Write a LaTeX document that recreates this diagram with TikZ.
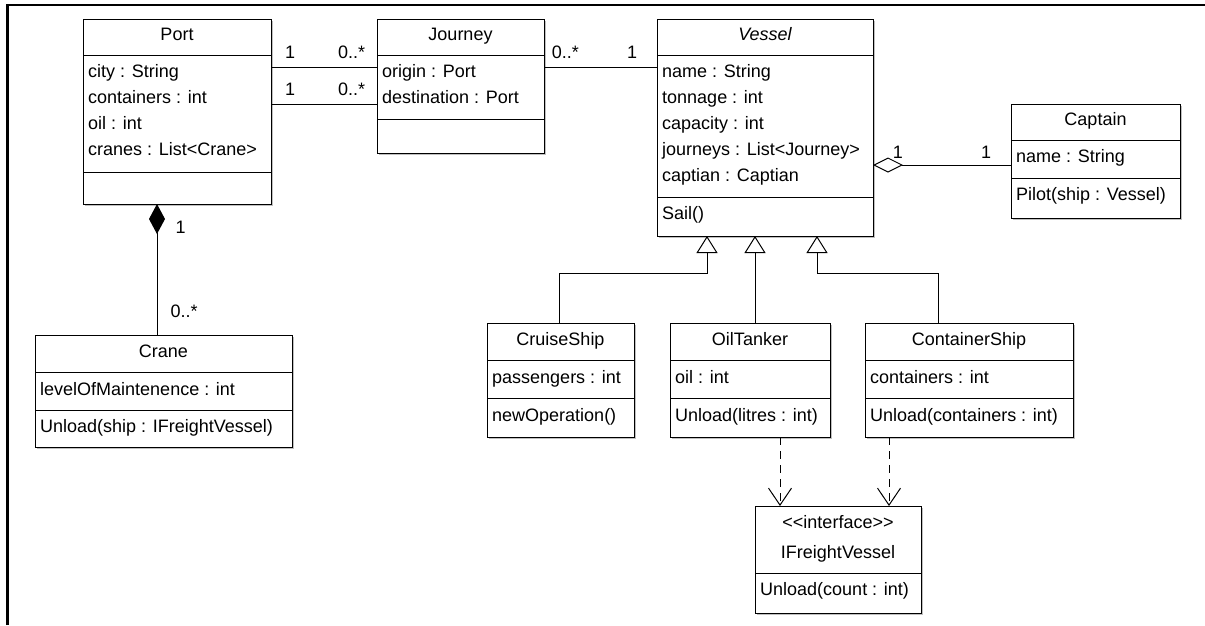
\documentclass[tikz,border=0pt]{standalone}
\usepackage{fontspec}
\setmainfont{Liberation Sans}
\usetikzlibrary{arrows.meta,shadows}

\begin{document}
\begin{tikzpicture}[x=1pt,y=-1pt,
    cls/.style={draw, line width=1pt, fill=white, anchor=north west, inner sep=0pt, outer sep=0pt,
      drop shadow={shadow xshift=2pt, shadow yshift=-2pt, fill=black!25, opacity=1}},
    sepline/.style={line width=1pt},
    title/.style={font=\fontsize{18}{26}\selectfont, inner sep=0pt, anchor=base},
    attr/.style={font=\fontsize{18}{26}\selectfont, inner sep=0pt, anchor=base west},
    mult/.style={font=\fontsize{18}{26}\selectfont, inner sep=0pt},
    link/.style={line width=1pt},
    comp/.style={link, {Diamond[length=30pt,width=16pt]}-},
    aggr/.style={link, {Diamond[open,length=30pt,width=15pt]}-},
    gen/.style={link, -{Triangle[open,length=17pt,width=21pt]}},
    dep/.style={link, dash pattern=on 8pt off 6pt, -{Straight Barb[length=17pt,width=23pt]}}]

    \useasboundingbox (0,0) rectangle (1205,625);
    \draw[line width=2.5pt] (7.5,625) -- (7.5,5) -- (1205,5);

    % Port
    \node[cls, minimum width=188pt, minimum height=185pt] (port) at (83,19) {};
    \draw[sepline] (83,55) -- (271,55) (83,172) -- (271,172);
    \node[title] (port-t) at (177,40) {Port};
    \node[attr] (port-a1) at (88,77) {city : String};
    \node[attr] (port-a2) at (88,103) {containers : int};
    \node[attr] (port-a3) at (88,129) {oil : int};
    \node[attr] (port-a4) at (88,155) {cranes : List<Crane>};

    % Journey
    \node[cls, minimum width=167pt, minimum height=134pt] (journey) at (377,19) {};
    \draw[sepline] (377,55) -- (544,55) (377,119) -- (544,119);
    \node[title] (journey-t) at (460.5,40) {Journey};
    \node[attr] (journey-a1) at (382,77) {origin : Port};
    \node[attr] (journey-a2) at (382,103) {destination : Port};

    % Vessel
    \node[cls, minimum width=216pt, minimum height=217pt] (vessel) at (657,19) {};
    \draw[sepline] (657,55) -- (873,55) (657,197) -- (873,197);
    \node[title] (vessel-t) at (765,40) {\itshape Vessel};
    \node[attr] (vessel-a1) at (662,77) {name : String};
    \node[attr] (vessel-a2) at (662,103) {tonnage : int};
    \node[attr] (vessel-a3) at (662,129) {capacity : int};
    \node[attr] (vessel-a4) at (662,155) {journeys : List<Journey>};
    \node[attr] (vessel-a5) at (662,181) {captian : Captian};
    \node[attr] (vessel-o1) at (662,219) {Sail()};

    % Captain
    \node[cls, minimum width=169pt, minimum height=114pt] (captain) at (1011,104) {};
    \draw[sepline] (1011,140) -- (1180,140) (1011,178) -- (1180,178);
    \node[title] (captain-t) at (1095.5,125) {Captain};
    \node[attr] (captain-a1) at (1016,162) {name : String};
    \node[attr] (captain-o1) at (1016,200) {Pilot(ship : Vessel)};

    % Crane
    \node[cls, minimum width=257pt, minimum height=112pt] (crane) at (35,335) {};
    \draw[sepline] (35,372) -- (292,372) (35,410) -- (292,410);
    \node[title] (crane-t) at (163.5,357) {Crane};
    \node[attr] (crane-a1) at (40,395) {levelOfMaintenence : int};
    \node[attr] (crane-o1) at (40,432) {Unload(ship : IFreightVessel)};

    % CruiseShip
    \node[cls, minimum width=147pt, minimum height=114pt] (cruise) at (487,323) {};
    \draw[sepline] (487,360) -- (634,360) (487,398) -- (634,398);
    \node[title] (cruise-t) at (560.5,345) {CruiseShip};
    \node[attr] (cruise-a1) at (492,383) {passengers : int};
    \node[attr] (cruise-o1) at (492,421) {newOperation()};

    % OilTanker
    \node[cls, minimum width=160pt, minimum height=114pt] (tanker) at (670,323) {};
    \draw[sepline] (670,360) -- (830,360) (670,398) -- (830,398);
    \node[title] (tanker-t) at (750,345) {OilTanker};
    \node[attr] (tanker-a1) at (675,383) {oil : int};
    \node[attr] (tanker-o1) at (675,421) {Unload(litres : int)};

    % ContainerShip
    \node[cls, minimum width=208pt, minimum height=114pt] (container) at (865,323) {};
    \draw[sepline] (865,360) -- (1073,360) (865,398) -- (1073,398);
    \node[title] (container-t) at (969,345) {ContainerShip};
    \node[attr] (container-a1) at (870,383) {containers : int};
    \node[attr] (container-o1) at (870,421) {Unload(containers : int)};

    % IFreightVessel
    \node[cls, minimum width=166pt, minimum height=107pt] (freight) at (755,506) {};
    \draw[sepline] (755,573) -- (921,573);
    \node[title] (freight-s) at (838,528) {<{}<interface>{}>};
    \node[title] (freight-t) at (838,558) {IFreightVessel};
    \node[attr] (freight-o1) at (760,595) {Unload(count : int)};

    % associations
    \draw[link] ([yshift=-48pt]port.north east) --
        node[mult, pos=0.18, above=8pt] (pj-1) {1}
        node[mult, pos=0.76, above=8pt] (pj-2) {0..*} ([yshift=-48pt]journey.north west);
    \draw[link] ([yshift=-85pt]port.north east) --
        node[mult, pos=0.18, above=8pt] (pj-3) {1}
        node[mult, pos=0.76, above=8pt] (pj-4) {0..*} ([yshift=-85pt]journey.north west);
    \draw[link] ([yshift=-48pt]journey.north east) --
        node[mult, pos=0.19, above=8pt] (jv-1) {0..*}
        node[mult, pos=0.78, above=8pt] (jv-2) {1} ([yshift=-48pt]vessel.north west);
    \draw[aggr] ([yshift=-146pt]vessel.north east) --
        node[mult, pos=0.18, above=6pt] (vc-1) {1}
        node[mult, pos=0.82, above=6pt] (vc-2) {1} ([yshift=-61pt]captain.north west);
    \draw[comp] ([xshift=-20pt]port.south) --
        node[mult, pos=0.18, right=18pt] (pc-1) {1}
        node[mult, pos=0.82, right=13pt] (pc-2) {0..*} ([xshift=-6.5pt]crane.north);

    % inheritance
    \draw[gen] ([xshift=-1.5pt]cruise.north) -- ++(0,-50) -| ([xshift=-58pt]vessel.south);
    \draw[gen] ([xshift=5pt]tanker.north) -- ([xshift=-10pt]vessel.south);
    \draw[gen] ([xshift=-31pt]container.north) -- ++(0,-50) -| ([xshift=52pt]vessel.south);

    % realisation
    \draw[dep] ([xshift=30pt]tanker.south) -- ([xshift=-58pt]freight.north);
    \draw[dep] ([xshift=-80pt]container.south) -- ([xshift=51pt]freight.north);
\end{tikzpicture}
\end{document}
